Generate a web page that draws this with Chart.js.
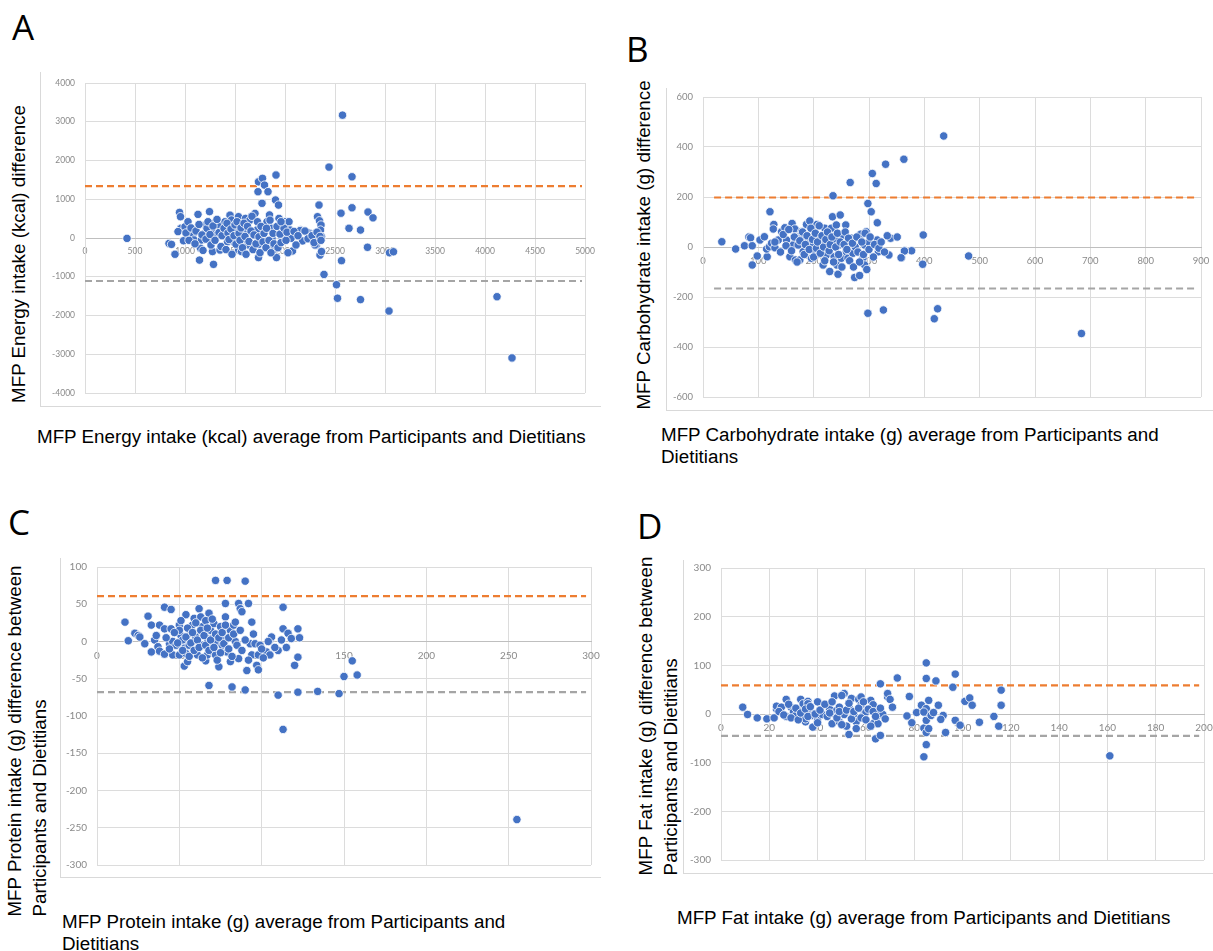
<!DOCTYPE html>
<html>
<head>
<meta charset="utf-8">
<script src="https://cdn.jsdelivr.net/npm/chart.js@4.4.1/dist/chart.umd.min.js"></script>
<style>
  body { margin:0; background:#fff; width:1213px; height:951px; position:relative; overflow:hidden;
         font-family:"Liberation Sans", Arial, sans-serif; color:#000; }
  .letter { position:absolute; font-family:"Open Sans", sans-serif; font-size:35px; line-height:35px; }
  .frame { position:absolute; border-left:1px solid #d9d9d9; border-bottom:1px solid #d9d9d9; }
  .xt { position:absolute; font-size:18.8px; line-height:22px; white-space:nowrap; }
  .yt { position:absolute; font-size:18.8px; line-height:25px; white-space:nowrap; text-align:left;
        transform:translate(-50%,-50%) rotate(-90deg); }
  canvas { position:absolute; }
</style>
</head>
<body>

<div class="letter" style="left:12px;top:9px">A</div>
<div class="letter" style="left:626px;top:31px">B</div>
<div class="letter" style="left:8px;top:504px">C</div>
<div class="letter" style="left:637px;top:508px">D</div>

<div class="frame" style="left:40px;top:72px;width:560px;height:334px"></div>
<div class="frame" style="left:666px;top:88px;width:547px;height:322px"></div>
<div class="frame" style="left:60px;top:558px;width:540px;height:319px"></div>
<div class="frame" style="left:683px;top:560px;width:530px;height:313px"></div>

<div class="yt" style="left:18px;top:254px">MFP Energy intake (kcal) difference</div>
<div class="yt" style="left:643px;top:245px">MFP Carbohydrate intake (g) difference</div>
<div class="yt" style="left:27px;top:741px">MFP Protein intake (g) difference between<br>Participants and Dietitians</div>
<div class="yt" style="left:658px;top:716px">MFP Fat intake (g) difference between<br>Participants and Dietitians</div>

<div class="xt" style="left:37px;top:426px">MFP Energy intake (kcal) average from Participants and Dietitians</div>
<div class="xt" style="left:661px;top:424px">MFP Carbohydrate intake (g) average from Participants and<br>Dietitians</div>
<div class="xt" style="left:62px;top:911px">MFP Protein intake (g) average from Participants and<br>Dietitians</div>
<div class="xt" style="left:677px;top:907px">MFP Fat intake (g) average from Participants and Dietitians</div>

<script>
// [average, difference]
const energyPts = [
  [420,-10],[840,-140],[865,-165],[900,-420],[945,660],[955,550],[960,250],[930,165],[1000,290],[985,-70],
  [1030,420],[1080,75],[1090,-50],[1130,610],[1145,-570],[1155,-265],[1165,-50],[1205,335],[1195,120],[1245,680],
  [1265,-95],[1275,-350],[1285,-680],[1270,165],[1295,380],[1315,75],[1330,335],[1350,-310],[1400,420],[1415,120],
  [1425,-95],[1450,590],[1465,465],[1485,290],[1485,-95],[1515,165],[1535,-310],[1535,550],[1565,-350],[1565,-10],
  [1585,205],[1605,505],[1620,-95],[1630,165],[1635,-180],[1650,465],[1700,635],[1720,205],[1735,1450],[1730,1195],
  [1735,-165],[1735,-505],[1770,895],[1775,1540],[1795,1365],[1820,420],[1830,1195],[1845,595],[1865,250],[1870,-10],
  [1835,-225],[1885,-310],[1905,980],[1910,1625],[1915,-505],[1935,850],[1940,505],[1970,-10],[1985,205],[2000,420],
  [2040,420],[2050,205],[2060,-10],[2075,-335],[2155,205],[2175,-75],[2250,120],[2315,-180],[2340,850],[2350,-440],
  [2575,3170],[2440,1830],[2670,1580],[2560,640],[2670,780],[2830,670],[2880,520],[2325,550],[2345,445],[2360,335],
  [2355,205],[2640,250],[2755,205],[2150,190],[2225,140],[2235,-10],[2300,-10],[2300,-180],[2365,35],[2365,-350],
  [2825,-240],[3045,-380],[3085,-355],[2565,-585],[2390,-940],[2515,-1205],[2525,-1555],[2755,-1590],[3040,-1885],[4120,-1515],
  [4270,-3095],
  [1010,130],[1040,-60],[1060,260],[1100,-150],[1110,180],[1140,350],[1170,80],[1180,-320],[1210,-30],[1220,250],
  [1230,420],[1250,90],[1260,-180],[1280,310],[1300,-60],[1320,480],[1340,140],[1360,-220],[1370,60],[1390,250],
  [1410,-300],[1420,380],[1430,130],[1440,-40],[1460,230],[1470,-420],[1490,60],[1500,340],[1510,-160],[1520,420],
  [1540,120],[1550,-60],[1560,260],[1575,-250],[1590,380],[1600,40],[1610,-420],[1625,300],[1640,-90],[1660,180],
  [1670,560],[1680,-300],[1690,80],[1710,-150],[1725,420],[1740,30],[1750,-380],[1760,300],[1780,-100],[1790,120],
  [1810,-250],[1815,250],[1840,-60],[1850,460],[1860,-380],[1880,120],[1890,-150],[1920,300],[1930,-250],[1950,100],
  [1960,-120],[1990,250],[2010,-60],[2020,150],[2090,170],[2110,-180],[2130,60],[2200,180],[2230,-20],[2270,60],
  [2290,-120],[2320,150],[2350,40],[2360,-60],[1960,420],[2030,-380]
];
const carbPts = [
  [34,21],[59,-8],[75,5],[83,40],[86,37],[89,5],[89,-72],[98,-36],[103,28],[111,41],
  [116,-39],[115,-8],[121,141],[120,1],[124,15],[128,90],[127,72],[130,-3],[136,28],[142,61],
  [148,77],[151,28],[157,-39],[161,94],[163,8],[166,72],[167,-52],[169,41],[172,8],[175,-52],
  [178,61],[180,37],[181,-19],[187,90],[190,21],[193,104],[196,-45],[199,8],[201,68],[202,-12],
  [206,90],[208,35],[211,-19],[214,21],[217,-72],[220,75],[223,-32],[226,8],[229,-98],[232,75],
  [234,121],[235,205],[237,-39],[238,28],[241,88],[242,-72],[244,-109],[246,8],[248,128],[250,-45],
  [253,48],[258,88],[259,-19],[262,-45],[266,258],[268,35],[271,-25],[274,-122],[275,1],[283,-114],
  [285,51],[289,-45],[292,8],[295,61],[292,-72],[298,174],[298,-265],[300,19],[304,141],[306,294],
  [313,254],[315,97],[315,28],[317,-19],[330,331],[326,-252],[336,-32],[339,35],[351,40],[359,-43],
  [363,351],[365,-15],[377,-15],[397,-69],[398,48],[435,444],[364,-16],[358,-43],[480,-36],[424,-247],
  [418,-287],[684,-346],
  [130,20],[140,-20],[145,50],[150,5],[155,70],[160,-15],[165,40],[170,-60],[175,25],[180,60],
  [183,-30],[185,10],[188,45],[192,-10],[195,75],[198,30],[200,-40],[203,55],[205,-5],[207,20],
  [210,85],[212,-25],[215,45],[218,0],[220,-55],[222,30],[225,60],[228,-15],[230,10],[233,40],
  [236,-60],[240,0],[243,55],[245,-30],[248,20],[251,-80],[255,10],[257,60],[260,-10],[263,35],
  [265,-55],[270,15],[272,-80],[278,40],[280,-20],[283,-60],[287,20],[290,-30],[293,55],[296,-90],
  [300,-10],[302,40],[308,-40],[310,10],[318,-5],[322,20],[328,-20],[333,45]
];
const proteinPts = [
  [17,26],[19,1],[23,11],[25,8],[26,6],[29,-3],[31,34],[33,22],[33,-14],[35,2],
  [36,8],[37,-7],[38,-13],[38,22],[41,46],[41,17],[41,-17],[45,43],[45,17],[44,-3],
  [46,0],[46,-18],[48,-5],[50,-18],[50,22],[51,8],[50,15],[52,2],[53,-9],[53,-33],
  [54,36],[54,-16],[55,-27],[56,-5],[57,11],[58,22],[59,31],[60,6],[61,-18],[62,44],
  [63,33],[64,20],[64,-5],[66,-26],[67,4],[67,-18],[68,38],[68,-59],[69,15],[70,4],
  [70,-14],[71,24],[72,82],[72,0],[72,-18],[74,-34],[75,20],[76,-5],[78,51],[78,33],
  [79,82],[78,2],[79,-14],[81,15],[81,-27],[82,-61],[83,22],[84,0],[84,26],[86,51],
  [87,44],[86,-23],[88,40],[90,81],[90,-65],[91,-39],[92,51],[93,-3],[94,-18],[94,26],
  [96,-3],[98,-18],[97,-32],[98,-38],[99,-5],[103,-14],[105,-18],[105,2],[106,6],[110,-12],
  [112,2],[110,-72],[113,46],[113,17],[113,-118],[115,-8],[116,11],[118,4],[120,-32],[122,-21],
  [122,17],[123,5],[122,-68],[134,-67],[147,-70],[150,-47],[155,-26],[158,-45],[255,-239],
  [42,5],[44,-10],[47,12],[49,-2],[51,28],[52,-12],[54,6],[55,18],[56,-20],[57,-2],
  [58,12],[59,-12],[60,25],[61,2],[62,-8],[63,15],[64,-22],[65,8],[66,28],[66,-5],
  [67,18],[68,-12],[69,2],[70,30],[71,-8],[72,10],[73,-25],[74,5],[75,-15],[76,12],
  [77,-3],[78,22],[80,-10],[80,5],[82,-20],[83,10],[85,-5],[87,15],[88,-12],[90,2],
  [92,-25],[95,10],[100,-10],[101,-22],[104,0],[108,-8]
];
const fatPts = [
  [9,14],[11,-1],[15,-8],[19,-10],[22,-8],[23,10],[23,16],[25,14],[27,30],[27,-5],
  [29,14],[30,4],[31,-3],[33,30],[34,8],[34,21],[35,-16],[35,-10],[36,26],[36,21],
  [37,4],[38,-3],[38,-27],[40,25],[40,-10],[42,-1],[45,10],[46,-20],[47,37],[47,1],
  [48,8],[49,-16],[49,14],[51,42],[50,38],[51,-1],[52,-25],[53,14],[53,-42],[54,32],
  [55,-1],[56,-16],[57,30],[58,19],[58,35],[59,-3],[60,4],[62,28],[63,19],[63,-20],
  [64,-51],[65,-20],[65,-3],[66,-44],[66,62],[67,-1],[69,35],[69,42],[70,30],[71,14],
  [73,74],[77,-4],[78,36],[79,-18],[81,3],[83,18],[84,-29],[85,-38],[85,-63],[84,-88],
  [85,105],[85,73],[85,-13],[86,28],[85,3],[86,-30],[85,11],[84,4],[87,-3],[88,3],
  [90,18],[92,-3],[91,-11],[89,68],[97,82],[96,55],[93,-38],[97,-13],[99,-23],[101,26],
  [103,33],[104,18],[107,-17],[113,-5],[115,-25],[116,49],[116,18],[161,-86],
  [24,5],[26,-2],[28,20],[29,-8],[31,12],[32,-12],[33,2],[35,10],[36,-5],[37,15],
  [39,0],[40,-18],[41,8],[43,20],[44,-5],[45,2],[46,25],[48,-8],[49,5],[50,-22],
  [52,8],[53,22],[54,-10],[55,5],[56,-30],[57,12],[58,-8],[59,25],[60,-12],[61,10],
  [62,-25],[63,5],[64,-5],[66,12],[68,-10]
];

// limits of agreement [upper, lower] and where the dashed lines start / end on x
const energyLimits = [1340, -1110],  energyLimitX = [0, 4970];
const carbLimits = [198, -166],      carbLimitX = [20, 888];
const proteinLimits = [61, -68],     proteinLimitX = [0, 297];
const fatLimits = [59, -45],         fatLimitX = [0, 198];

// axis ranges [min, max, step]
const energyXAxis = [0, 5000, 500],  energyYAxis = [-4000, 4000, 1000];
const carbXAxis = [0, 900, 100],     carbYAxis = [-600, 600, 200];
const proteinXAxis = [0, 300, 50],   proteinYAxis = [-300, 100, 50];
const fatXAxis = [0, 200, 20],       fatYAxis = [-300, 300, 100];

const PAD = 14, YW = 42;

function makeCanvas(id, b) {
  const c = document.createElement('canvas');
  const w = b.R - b.L + YW + PAD, h = b.B - b.T + 2 * PAD;
  c.id = id; c.width = w; c.height = h;
  c.style.left = (b.L - YW) + 'px'; c.style.top = (b.T - PAD) + 'px';
  c.style.width = w + 'px'; c.style.height = h + 'px';
  document.body.appendChild(c);
  return c;
}

function limitLine(xs, y, color) {
  return { data: xs.map(x => ({ x, y })), showLine: true, pointRadius: 0, borderColor: color,
           borderWidth: 2.2, borderDash: [7, 4], fill: false };
}

function renderPanel(id, box, pts, limits, limX, xa, ya, fontSize) {
  const tickFont = { family: 'Lato, "Liberation Sans", sans-serif', size: fontSize };
  new Chart(makeCanvas(id, box), {
    type: 'scatter',
    data: { datasets: [
      { data: pts.map(p => ({ x: p[0], y: p[1] })), backgroundColor: '#4472C4', borderColor: '#ffffff',
        borderWidth: 0.8, pointRadius: 4.2, pointHoverRadius: 4.2 },
      limitLine(limX, limits[0], '#ED7D31'),
      limitLine(limX, limits[1], '#A5A5A5')
    ]},
    options: {
      responsive: false, animation: false, events: [],
      layout: { padding: { left: 0, top: PAD, right: PAD, bottom: PAD } },
      plugins: { legend: { display: false }, tooltip: { enabled: false } },
      scales: {
        x: { type: 'linear', position: { y: 0 }, min: xa[0], max: xa[1],
             ticks: { stepSize: xa[2], autoSkip: false, maxRotation: 0, color: '#8a8a8a', padding: 8, font: tickFont,
                      callback: v => String(v) },
             grid: { color: '#dcdcdc', drawTicks: false }, border: { color: '#bfbfbf' },
             afterFit: s => { s.height = 0; s.paddingLeft = 0; s.paddingRight = 0; } },
        y: { type: 'linear', min: ya[0], max: ya[1],
             ticks: { stepSize: ya[2], autoSkip: false, color: '#8a8a8a', padding: 10, font: tickFont,
                      callback: v => String(v) },
             grid: { color: '#dcdcdc', drawTicks: false }, border: { color: '#dcdcdc' },
             afterFit: s => { s.width = YW; s.paddingTop = 0; s.paddingBottom = 0; } }
      }
    }
  });
}

renderPanel('chart-energy',  { L: 85,  T: 83,  R: 585,  B: 393 }, energyPts,  energyLimits,  energyLimitX,  energyXAxis,  energyYAxis, 8.5);
renderPanel('chart-carb',    { L: 703, T: 97,  R: 1201, B: 397 }, carbPts,    carbLimits,    carbLimitX,    carbXAxis,    carbYAxis, 9.5);
renderPanel('chart-protein', { L: 97,  T: 567, R: 591,  B: 865 }, proteinPts, proteinLimits, proteinLimitX, proteinXAxis, proteinYAxis, 10);
renderPanel('chart-fat',     { L: 721, T: 568, R: 1204, B: 860 }, fatPts,     fatLimits,     fatLimitX,     fatXAxis,     fatYAxis, 10);
</script>
</body>
</html>
